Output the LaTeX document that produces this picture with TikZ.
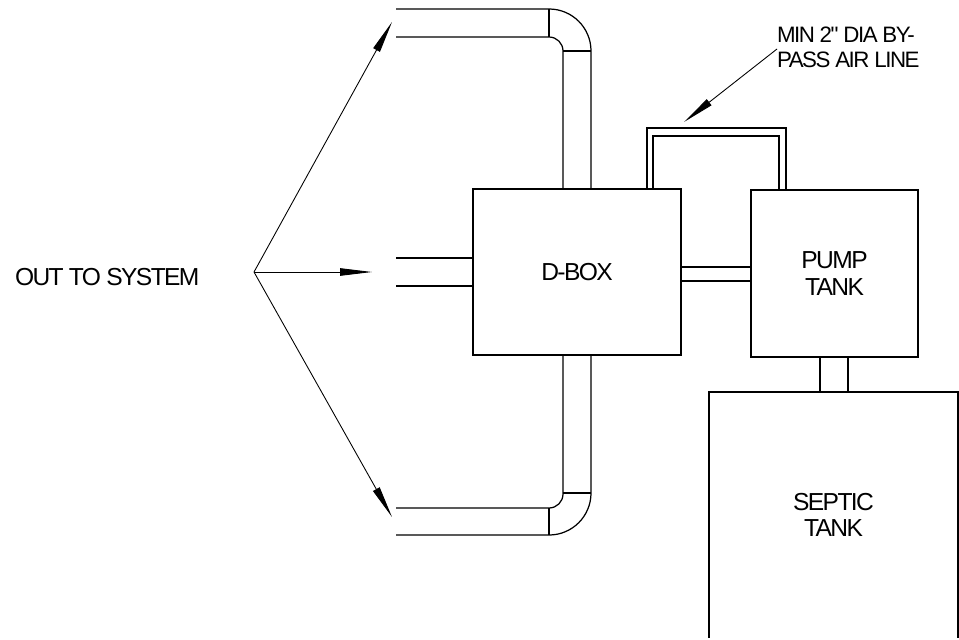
\documentclass[tikz,border=0pt]{standalone}
\usepackage{fontspec}
\newfontfamily\cadfont{Liberation Sans}[LetterSpace=-6.5]
\usetikzlibrary{arrows.meta}

\begin{document}
\begin{tikzpicture}[x=0.02cm, y=-0.02cm, line width=0.7pt,
		tankbox/.style={rectangle, draw, inner sep=0pt, outer sep=0pt, align=center,
			font=\cadfont\fontsize{14}{15}\selectfont},
		txt/.style={inner sep=0pt, outer sep=0pt, align=left,
			font=\cadfont\fontsize{14}{15}\selectfont},
		pointer/.style={-{Triangle[length=0.64cm, width=0.15cm]}, line width=0.5pt}]
	\useasboundingbox (0,0) rectangle (959,639);
	% boxes
	\node[tankbox, minimum width=4.16cm, minimum height=3.32cm] (dbox) at (577,272) {D-BOX};
	\node[tankbox, minimum width=3.34cm, minimum height=3.34cm] (pump) at (834.5,273.5) {PUMP\\TANK};
	\node[tankbox, draw=none, minimum width=4.98cm, minimum height=4.92cm] (septic) at (833.5,515) {SEPTIC\\TANK};
	\draw (septic.south west) |- (septic.north east) -- (septic.south east);
	% labels
	\node[txt, anchor=base west] (out) at (15,285) {OUT TO SYSTEM};
	\node[txt, anchor=north west, font=\cadfont\fontsize{12.7}{14.2}\selectfont] (bypass) at (777,27) {MIN 2" DIA BY-\\PASS AIR LINE};
	% pipes out to system
	\draw[rounded corners=0.84cm] (396,9) -| (591,189);
	\draw[rounded corners=0.28cm] (396,37) -| (563,189);
	\draw (549,9) -- (549,37);
	\draw (563,51) -- (591,51);
	\draw (396,258) -- (473,258);
	\draw (396,286) -- (473,286);
	\draw[rounded corners=0.84cm] (396,535) -| (591,355);
	\draw[rounded corners=0.28cm] (396,508) -| (563,355);
	\draw (549,508) -- (549,535);
	\draw (563,493) -- (591,493);
	% d-box to pump tank, pump tank to septic tank
	\draw (681,267) -- (751,267);
	\draw (681,281) -- (751,281);
	\draw (820,357) -- (820,392);
	\draw (848,357) -- (848,392);
	% by-pass air line
	\draw (647,189) |- (786,128) -- (786,190);
	\draw (653,189) |- (779,136) -- (779,190);
	% arrows
	\coordinate (fan) at (254,272);
	\coordinate (tipT) at (392,22);
	\coordinate (tipM) at (372,272);
	\coordinate (tipB) at (392,517);
	\coordinate (tipA) at (684,122);
	\draw[pointer] (fan) -- (tipT);
	\draw[pointer] (fan) -- (tipM);
	\draw[pointer] (fan) -- (tipB);
	\draw[pointer] (bypass.west |- 0,49) -- (tipA);
\end{tikzpicture}
\end{document}
